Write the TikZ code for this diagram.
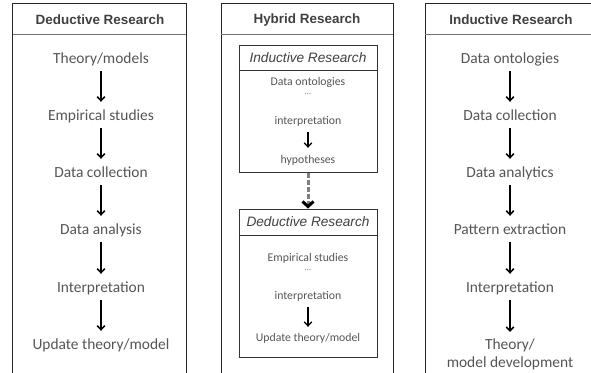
\documentclass[tikz,border=0pt]{standalone}
\usepackage{fontspec}
\setmainfont{Carlito}
\newfontfamily\headfont{Liberation Sans}
\usepackage{xcolor}
\usetikzlibrary{arrows.meta}
\usetikzlibrary{positioning}
\definecolor{txtgray}{HTML}{555555}
\definecolor{headgray}{HTML}{404040}

\begin{document}
\begin{tikzpicture}[x=1bp, y=-1bp, every node/.style={inner sep=0pt, text=txtgray},
		stage/.style={font=\fontsize{15.5}{17.5}\selectfont, text height=10bp, text depth=3bp},
		small/.style={font=\fontsize{11.8}{13}\selectfont, text height=8bp, text depth=2.5bp},
		dots/.style={font=\fontsize{8}{9}\selectfont},
		title/.style={font=\headfont\bfseries\fontsize{13.5}{15}\selectfont, text=headgray},
		subtitle/.style={font=\headfont\itshape\fontsize{13.7}{15}\selectfont, text=headgray},
		panel/.style={draw=black!85, line width=1bp},
		divider/.style={draw=black!55, line width=1bp},
		box/.style={draw=black!80, line width=1bp, minimum width=138bp},
		flow/.style={-{Straight Barb[length=4bp, width=7.5bp]}, line width=1.5bp, black},
		hop/.style={-{Straight Barb[length=5bp, width=11bp, color=black]}, line width=3bp, black!50, dash pattern=on 5bp off 2bp}]
			
			\useasboundingbox (0,0) rectangle (591,372);
			\clip (0,0) rectangle (591,372);
			
			%  panels
			\draw[panel] (12.5,380) -- (12.5,3.5) -- (186,3.5) -- (186,380);
			\draw[divider] (12.5,34) -- (186,34);
			\draw[panel] (221,380) -- (221,3.5) -- (393,3.5) -- (393,380);
			\draw[divider] (221,34) -- (393,34);
			\draw[panel] (425,380) -- (425,3.5) -- (600,3.5);
			\draw[divider] (425,34) -- (600,34);
			
			\node[title] (t1) at (100,20) {Deductive Research};
			\node[title] (t2) at (307,20) {Hybrid Research};
			\node[title] (t3) at (511,20) {Inductive Research};
			
			%  deductive
			\node[stage] (d1) at (101,60) {Theory/models};
			\node[stage] (d2) at (101,117) {Empirical studies};
			\node[stage] (d3) at (101,174) {Data collection};
			\node[stage] (d4) at (101,231) {Data analysis};
			\node[stage] (d5) at (101,289) {Interpretation};
			\node[stage] (d6) at (101,346) {Update theory/model};
			
			\draw[flow, shorten <=4.5bp, shorten >=8.5bp] (d1) -- (d2);
			\draw[flow, shorten <=4.5bp, shorten >=8.5bp] (d2) -- (d3);
			\draw[flow, shorten <=4.5bp, shorten >=8.5bp] (d3) -- (d4);
			\draw[flow, shorten <=4.5bp, shorten >=8.5bp] (d4) -- (d5);
			\draw[flow, shorten <=4.5bp, shorten >=8.5bp] (d5) -- (d6);
			
			%  hybrid
			\node[box, minimum height=127bp] (ind) at (308,108.5) {};
			\draw[divider, draw=black!80] ([yshift=-26bp]ind.north west) -- ([yshift=-26bp]ind.north east);
			\node[subtitle] (s1) at (308,58) {Inductive Research};
			\node[small] (h1) at (308,83) {Data ontologies};
			\node[dots] (h2) at (308,94) {...};
			\node[small] (h3) at (308,122) {interpretation};
			\node[small] (h4) at (308,161) {hypotheses};
			\draw[flow, line width=1.3bp, shorten <=4.75bp, shorten >=7.75bp] (h3) -- (h4);
			
			\node[box, minimum height=148bp] (ded) at (308,283) {};
			\draw[divider, draw=black!80] ([yshift=-27bp]ded.north west) -- ([yshift=-27bp]ded.north east);
			\node[subtitle] (s2) at (308,222) {Deductive Research};
			\node[small] (h5) at (308,259) {Empirical studies};
			\node[dots] (h6) at (308,270) {...};
			\node[small] (h7) at (308,297) {interpretation};
			\node[small] (h8) at (308,339) {Update theory/model};
			\draw[flow, line width=1.3bp, shorten <=4.75bp, shorten >=6.75bp] (h7) -- (h8);
			
			\draw[hop] (ind) -- (ded);
			
			%  inductive
			\node[stage] (i1) at (510,60) {Data ontologies};
			\node[stage] (i2) at (510,117) {Data collection};
			\node[stage] (i3) at (510,174) {Data analytics};
			\node[stage] (i4) at (510,231) {Pattern extraction};
			\node[stage] (i5) at (510,289) {Interpretation};
			\node[font=\fontsize{15.5}{17.5}\selectfont, align=center, anchor=north] (i6) at (510,339) {Theory/\\model development};
			
			\draw[flow, shorten <=4.5bp, shorten >=8.5bp] (i1) -- (i2);
			\draw[flow, shorten <=4.5bp, shorten >=8.5bp] (i2) -- (i3);
			\draw[flow, shorten <=4.5bp, shorten >=8.5bp] (i3) -- (i4);
			\draw[flow, shorten <=4.5bp, shorten >=8.5bp] (i4) -- (i5);
			\draw[flow, shorten <=4.5bp, shorten >=7bp] (i5) -- (i6);
		\end{tikzpicture}
\end{document}
